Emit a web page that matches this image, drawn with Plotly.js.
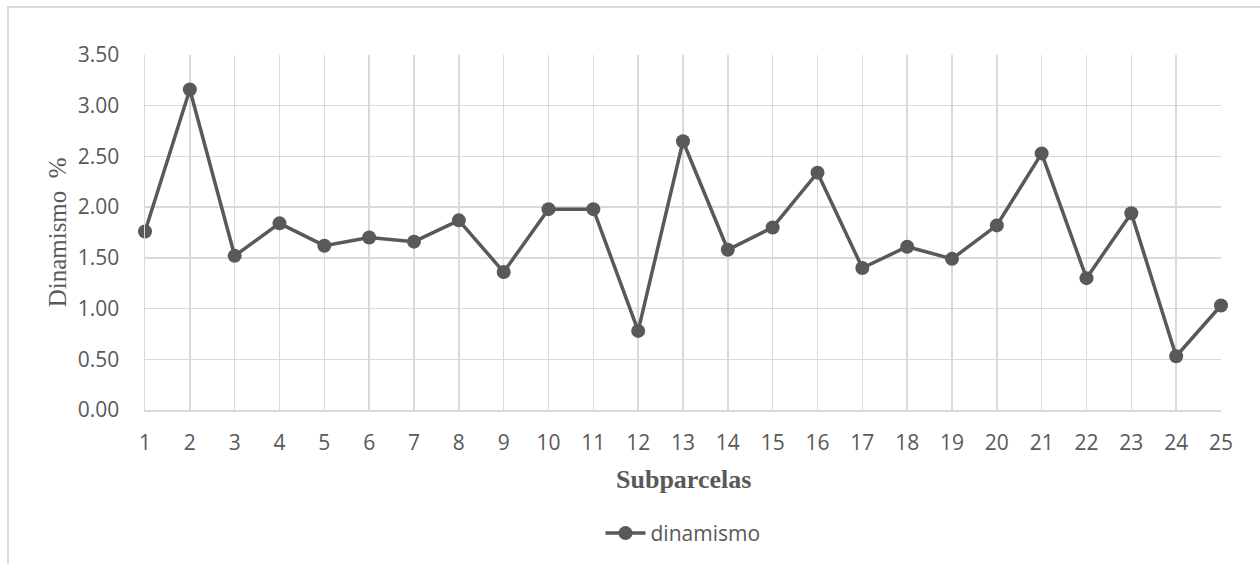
<!DOCTYPE html>
<html>
<head>
<meta charset="utf-8">
<script src="https://cdn.plot.ly/plotly-3.0.1.min.js"></script>
<style>
  html, body { margin: 0; padding: 0; background: #ffffff; }
  #wrap { position: relative; width: 1260px; height: 564px; overflow: hidden; }
  #frame { position: absolute; left: 7px; top: 6px; width: 1260px; height: 600px;
           border-left: 2px solid #d9d9d9; border-top: 2px solid #d9d9d9; pointer-events: none; }
  #chart { position: absolute; left: 0; top: 0; width: 1260px; height: 564px; }
</style>
</head>
<body>
<div id="wrap">
  <div id="chart"></div>
  <div id="frame"></div>
</div>
<script>
// Data
const subparcelas = [1, 2, 3, 4, 5, 6, 7, 8, 9, 10, 11, 12, 13, 14, 15, 16, 17, 18, 19, 20, 21, 22, 23, 24, 25];
const dinamismo = [1.76, 3.16, 1.52, 1.84, 1.62, 1.70, 1.66, 1.87, 1.36, 1.98, 1.98, 0.78, 2.65, 1.58, 1.80,
                   2.34, 1.40, 1.61, 1.49, 1.82, 2.53, 1.30, 1.94, 0.53, 1.03];
const yTickVals = [0, 0.5, 1, 1.5, 2, 2.5, 3, 3.5];
const yTickText = ["0.00", "0.50", "1.00", "1.50", "2.00", "2.50", "3.00", "3.50"];
const seriesName = "dinamismo";
const xTitle = "Subparcelas";
const yTitle = "Dinamismo &nbsp;%";

const textColor = "#595959";
const gridColor = "#d9d9d9";

const trace = {
  x: subparcelas,
  y: dinamismo,
  type: "scatter",
  mode: "lines+markers",
  name: seriesName,
  cliponaxis: false,
  line: { color: "#595959", width: 3.5 },
  marker: { color: "#595959", size: 14 }
};

const layout = {
  width: 1260,
  height: 564,
  margin: { l: 145, r: 39, t: 55, b: 152.5 },
  paper_bgcolor: "#ffffff",
  plot_bgcolor: "#ffffff",
  showlegend: true,
  legend: {
    orientation: "h",
    x: 0.5, xanchor: "center",
    y: -0.344, yanchor: "middle",
    font: { family: "Open Sans, sans-serif", size: 21, color: textColor },
    itemwidth: 40
  },
  xaxis: {
    range: [1, 25],
    tickmode: "array",
    tickvals: subparcelas,
    ticktext: subparcelas.map(String),
    showgrid: true,
    gridcolor: gridColor,
    gridwidth: 1.5,
    showline: true,
    linecolor: gridColor,
    linewidth: 1.5,
    zeroline: false,
    ticks: "outside",
    ticklen: 13,
    tickcolor: "rgba(0,0,0,0)",
    tickfont: { family: "Open Sans, sans-serif", size: 21, color: textColor },
    fixedrange: true
  },
  yaxis: {
    range: [0, 3.5],
    tickmode: "array",
    tickvals: yTickVals,
    ticktext: yTickText,
    showgrid: true,
    gridcolor: gridColor,
    gridwidth: 1.5,
    showline: true,
    linecolor: gridColor,
    linewidth: 1.5,
    zeroline: false,
    ticks: "outside",
    ticklen: 20,
    tickcolor: "rgba(0,0,0,0)",
    tickfont: { family: "Open Sans, sans-serif", size: 21, color: textColor },
    fixedrange: true
  },
  annotations: [
    {
      text: "<b>" + xTitle + "</b>",
      xref: "paper", yref: "paper",
      x: 0.5, y: -0.197,
      xanchor: "center", yanchor: "middle",
      showarrow: false,
      font: { family: "Liberation Serif, Times New Roman, serif", size: 26, color: textColor }
    },
    {
      text: yTitle,
      xref: "paper", yref: "paper",
      x: -0.081, y: 0.5,
      xanchor: "center", yanchor: "middle",
      textangle: -90,
      showarrow: false,
      font: { family: "Liberation Serif, Times New Roman, serif", size: 25, color: textColor }
    }
  ]
};

Plotly.newPlot("chart", [trace], layout, { displayModeBar: false, staticPlot: true });
</script>
</body>
</html>
